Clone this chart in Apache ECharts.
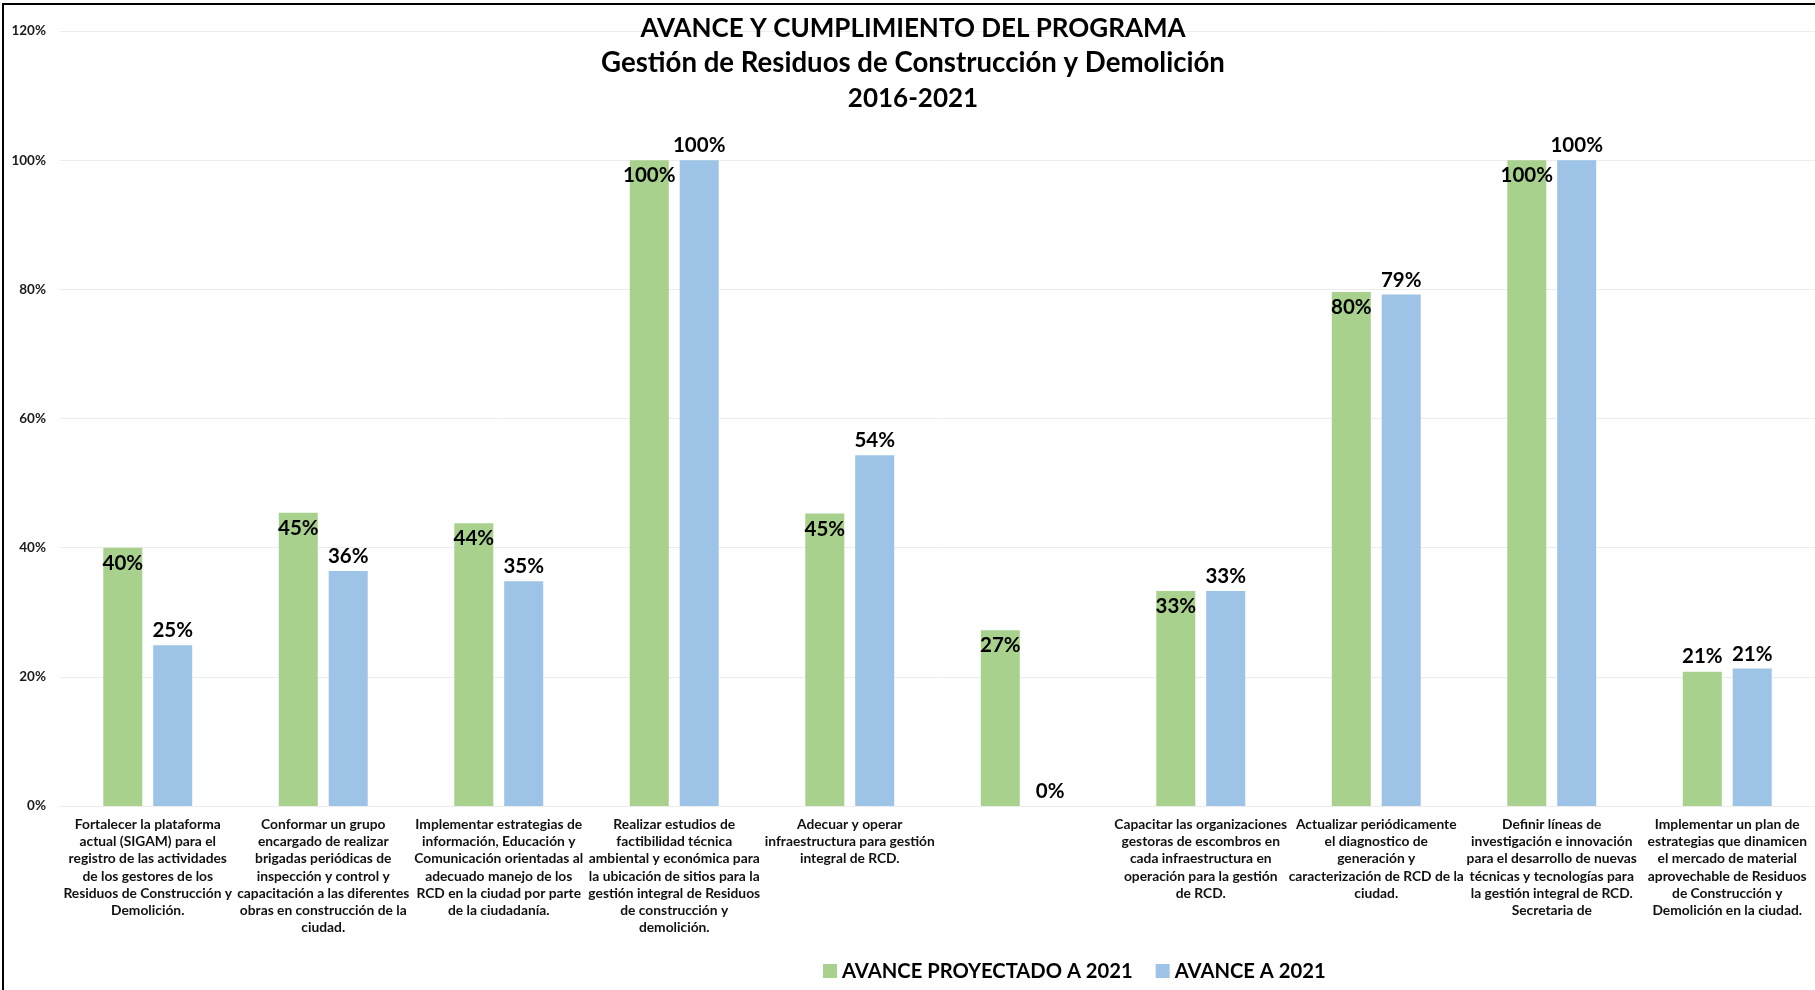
<!DOCTYPE html>
<html>
<head>
<meta charset="utf-8">
<script src="https://cdn.jsdelivr.net/npm/echarts@6/dist/echarts.min.js"></script>
<style>
html,body{margin:0;padding:0;background:#fff;}
#chart{width:1815px;height:990px;}
</style>
</head>
<body>
<div id="chart"></div>
<script>
const titleLines = [
  'AVANCE Y CUMPLIMIENTO DEL PROGRAMA',
  'Gestión de Residuos de Construcción y Demolición',
  '2016-2021'
];
const categories = [
  'Fortalecer la plataforma\nactual (SIGAM) para el\nregistro de las actividades\nde los gestores de los\nResiduos de Construcción y\nDemolición.',
  'Conformar un grupo\nencargado de realizar\nbrigadas periódicas de\ninspección y control y\ncapacitación a las diferentes\nobras en construcción de la\nciudad.',
  'Implementar estrategias de\ninformación, Educación y\nComunicación orientadas al\nadecuado manejo de los\nRCD en la ciudad por parte\nde la ciudadanía.',
  'Realizar estudios de\nfactibilidad técnica\nambiental y económica para\nla ubicación de sitios para la\ngestión integral de Residuos\nde construcción y\ndemolición.',
  'Adecuar y operar\ninfraestructura para gestión\nintegral de RCD.',
  '',
  'Capacitar las organizaciones\ngestoras de escombros en\ncada infraestructura en\noperación para la gestión\nde RCD.',
  'Actualizar periódicamente\nel diagnostico de\ngeneración y\ncaracterización de RCD de la\nciudad.',
  'Definir líneas de\ninvestigación e innovación\npara el desarrollo de nuevas\ntécnicas y tecnologías para\nla gestión integral de RCD.\nSecretaria de',
  'Implementar un plan de\nestrategias que dinamicen\nel mercado de material\naprovechable de Residuos\nde Construcción y\nDemolición en la ciudad.'
];
const seriesNames = ['AVANCE PROYECTADO A 2021', 'AVANCE A 2021'];
const proyectado = [40.0, 45.4, 43.8, 100, 45.3, 27.2, 33.3, 79.6, 100, 20.8];
const avance = [24.9, 36.4, 34.8, 100, 54.3, 0, 33.3, 79.2, 100, 21.3];
const yTicks = [0, 20, 40, 60, 80, 100, 120];

const FONT = 'Lato';
const outsideGreen = [9];

const chart = echarts.init(document.getElementById('chart'));
const pctFmt = p => Math.round(p.value) + '%';

chart.setOption({
  backgroundColor: '#ffffff',
  animation: false,
  textStyle: { fontFamily: FONT },
  title: {
    text: '{a|' + titleLines[0] + '}\n{b|' + titleLines[1] + '}\n{a|' + titleLines[2] + '}',
    left: 908, textAlign: 'center', top: 6,
    textStyle: {
      fontFamily: FONT, fontSize: 26, fontWeight: 'bold', color: '#000', lineHeight: 35,
      rich: {
        a: { fontFamily: FONT, fontSize: 26, fontWeight: 'bold', color: '#000', lineHeight: 35 },
        b: { fontFamily: FONT, fontSize: 27.6, fontWeight: 'bold', color: '#000', lineHeight: 35 }
      }
    }
  },
  legend: {
    left: 818, top: 956,
    itemWidth: 14, itemHeight: 14, itemGap: 23,
    icon: 'rect',
    textStyle: { fontFamily: FONT, fontSize: 20.2, fontWeight: 'bold', color: '#000' },
    data: seriesNames
  },
  graphic: [{
    type: 'rect', silent: true, z: 100,
    shape: { x: 3, y: 4, width: 1840, height: 1020 },
    style: { fill: 'none', stroke: '#000', lineWidth: 2 }
  }],
  grid: { left: 60, width: 1759, top: 31, bottom: 184, containLabel: false },
  xAxis: {
    type: 'category',
    data: categories,
    axisLine: { show: true, lineStyle: { color: '#ececec', width: 1 } },
    axisTick: { show: false },
    axisLabel: {
      interval: 0, margin: 10,
      fontFamily: FONT, fontSize: 13.8, fontWeight: 'bold', color: '#111', lineHeight: 17.2,
      align: 'center', verticalAlign: 'top'
    }
  },
  yAxis: {
    type: 'value', min: 0, max: 120, interval: 20,
    axisLine: { show: false }, axisTick: { show: false },
    splitLine: { lineStyle: { color: '#ececec', width: 1 } },
    axisLabel: {
      margin: 14, fontFamily: FONT, fontSize: 13.5, fontWeight: 'bold', color: '#1a1a1a',
      formatter: v => (yTicks.includes(v) ? v + '%' : '')
    }
  },
  series: [
    {
      name: seriesNames[0], type: 'bar',
      barWidth: 39, barGap: '28%',
      itemStyle: { color: '#A9D18E' },
      label: {
        show: true, position: 'insideTop', distance: 5,
        fontFamily: FONT, fontSize: 20.5, fontWeight: 'bold', color: '#000', formatter: pctFmt
      },
      data: proyectado.map((v, i) => outsideGreen.includes(i)
        ? { value: v, label: { position: 'top', distance: 5 } }
        : v)
    },
    {
      name: seriesNames[1], type: 'bar',
      barWidth: 39,
      itemStyle: { color: '#9DC3E6' },
      label: {
        show: true, position: 'top', distance: 4,
        fontFamily: FONT, fontSize: 20.5, fontWeight: 'bold', color: '#000', formatter: pctFmt
      },
      data: avance
    }
  ]
});
</script>
</body>
</html>
